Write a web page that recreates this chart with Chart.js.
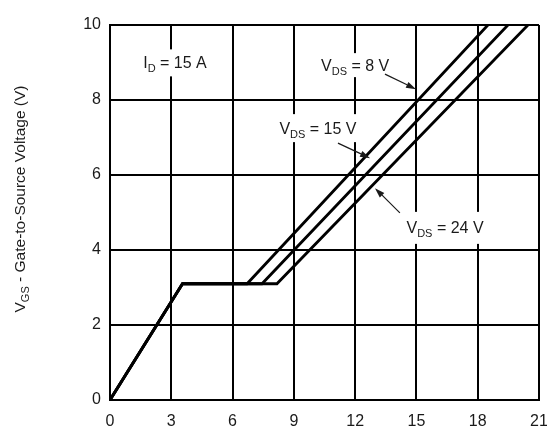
<!DOCTYPE html>
<html>
<head>
<meta charset="utf-8">
<script src="https://cdn.jsdelivr.net/npm/chart.js@4/dist/chart.umd.min.js"></script>
<style>
  html, body { margin: 0; padding: 0; background: #fff; }
  #wrap { width: 547px; height: 428px; position: relative; }
</style>
</head>
<body>
<div id="wrap"><canvas id="c" width="547" height="428"></canvas></div>
<script>
// ---- Data ----
const xTickValues = [0, 3, 6, 9, 12, 15, 18, 21];
const yTickValues = [0, 2, 4, 6, 8, 10];
const seriesLabels = ['VDS = 8 V', 'VDS = 15 V', 'VDS = 24 V'];
// Qg (nC) vs VGS (V), ID = 15 A
const vds8X  = [0, 3.55, 6.71, 18.50];
const vds8Y  = [0, 3.10, 3.10, 10.0];
const vds15X = [0, 3.55, 7.44, 19.48];
const vds15Y = [0, 3.10, 3.10, 10.0];
const vds24X = [0, 3.55, 8.17, 20.46];
const vds24Y = [0, 3.10, 3.10, 10.0];

const toPoints = (xs, ys) => xs.map((x, i) => ({ x: x, y: ys[i] }));

const FONT = '"Liberation Sans", Arial, Helvetica, sans-serif';
const INK = '#1a1a1a';

function measureParts(ctx, parts, big, small) {
  let w = 0;
  parts.forEach(p => {
    ctx.font = (p.sub ? small : big) + 'px ' + FONT;
    w += ctx.measureText(p.t).width;
  });
  return w;
}

function drawParts(ctx, parts, x, y, big, small, subShift) {
  let cx = x;
  parts.forEach(p => {
    ctx.font = (p.sub ? small : big) + 'px ' + FONT;
    ctx.fillText(p.t, cx, p.sub ? y + subShift : y);
    cx += ctx.measureText(p.t).width;
  });
}

function arrow(ctx, x1, y1, x2, y2) {
  const a = Math.atan2(y2 - y1, x2 - x1);
  const L = 10, H = 3.2;
  ctx.save();
  ctx.strokeStyle = INK; ctx.fillStyle = INK; ctx.lineWidth = 1.2;
  ctx.beginPath();
  ctx.moveTo(x1, y1);
  ctx.lineTo(x2 - L * Math.cos(a), y2 - L * Math.sin(a));
  ctx.stroke();
  ctx.beginPath();
  ctx.moveTo(x2, y2);
  ctx.lineTo(x2 - L * Math.cos(a) + H * Math.sin(a), y2 - L * Math.sin(a) - H * Math.cos(a));
  ctx.lineTo(x2 - L * Math.cos(a) - H * Math.sin(a), y2 - L * Math.sin(a) + H * Math.cos(a));
  ctx.closePath();
  ctx.fill();
  ctx.restore();
}

const annotations = {
  id: 'annotations',
  afterDatasetsDraw(chart) {
    const ctx = chart.ctx;
    const xs = chart.scales.x, ys = chart.scales.y;
    const px = v => xs.getPixelForValue(v);
    const py = v => ys.getPixelForValue(v);

    const labels = [
      { parts: [{ t: 'I' }, { t: 'D', sub: true }, { t: ' = 15 A' }], x: 3.18, y: 8.99, bh: 27 },
      { parts: [{ t: 'V' }, { t: 'DS', sub: true }, { t: ' = 8 V' }], x: 12.0, y: 8.93, bh: 24 },
      { parts: [{ t: 'V' }, { t: 'DS', sub: true }, { t: ' = 15 V' }], x: 10.18, y: 7.25, bh: 28 },
      { parts: [{ t: 'V' }, { t: 'DS', sub: true }, { t: ' = 24 V' }], x: 16.4, y: 4.59, bh: 32 }
    ];
    ctx.save();
    ctx.textBaseline = 'alphabetic';
    ctx.textAlign = 'left';
    labels.forEach(l => {
      const cx = px(l.x), cy = py(l.y);
      const w = measureParts(ctx, l.parts, 16, 11);
      ctx.fillStyle = '#fff';
      ctx.fillRect(cx - w / 2 - 3, cy - l.bh / 2, w + 6, l.bh);
      ctx.fillStyle = INK;
      drawParts(ctx, l.parts, cx - w / 2, cy + 5.5, 16, 11, 4);
    });
    ctx.restore();

    arrow(ctx, px(13.46), py(8.69), px(14.98), py(8.29));
    arrow(ctx, px(11.16), py(6.85), px(12.73), py(6.45));
    arrow(ctx, px(14.19), py(4.99), px(12.97), py(5.65));

    // Y axis title (rotated) with subscript
    const tParts = [{ t: 'V' }, { t: 'GS', sub: true }, { t: ' - Gate-to-Source Voltage (V)' }];
    ctx.save();
    ctx.translate(25, 199);
    ctx.rotate(-Math.PI / 2);
    ctx.fillStyle = INK;
    ctx.textAlign = 'left';
    ctx.textBaseline = 'alphabetic';
    const w = measureParts(ctx, tParts, 15.5, 11);
    drawParts(ctx, tParts, -w / 2, 0, 15.5, 11, 4);
    ctx.restore();
  }
};

const lineStyle = {
  borderColor: '#000',
  borderWidth: 2.8,
  pointRadius: 0,
  tension: 0,
  fill: false,
  borderJoinStyle: 'miter'
};

new Chart(document.getElementById('c'), {
  type: 'line',
  data: {
    datasets: [
      Object.assign({ label: seriesLabels[0], data: toPoints(vds8X, vds8Y) }, lineStyle),
      Object.assign({ label: seriesLabels[1], data: toPoints(vds15X, vds15Y) }, lineStyle),
      Object.assign({ label: seriesLabels[2], data: toPoints(vds24X, vds24Y) }, lineStyle)
    ]
  },
  options: {
    responsive: false,
    animation: false,
    devicePixelRatio: 1,
    layout: { padding: { left: 0, right: 8, top: 25, bottom: 0 } },
    plugins: { legend: { display: false }, tooltip: { enabled: false } },
    scales: {
      x: {
        type: 'linear',
        min: 0, max: 21,
        afterBuildTicks: s => { s.ticks = xTickValues.map(v => ({ value: v })); },
        afterFit: s => { s.height = 28; s.paddingLeft = 0; s.paddingRight = 0; },
        grid: { color: '#000', lineWidth: 2, drawTicks: false },
        border: { display: true, color: '#000', width: 2 },
        ticks: { color: INK, font: { family: FONT, size: 16 }, padding: 12, maxRotation: 0, autoSkip: false }
      },
      y: {
        type: 'linear',
        min: 0, max: 10,
        afterBuildTicks: s => { s.ticks = yTickValues.map(v => ({ value: v })); },
        afterFit: s => { s.width = 110; s.paddingTop = 0; s.paddingBottom = 0; },
        grid: { color: '#000', lineWidth: 2, drawTicks: false },
        border: { display: true, color: '#000', width: 2 },
        ticks: { color: INK, font: { family: FONT, size: 16 }, padding: 9 }
      }
    }
  },
  plugins: [annotations]
});
</script>
</body>
</html>
